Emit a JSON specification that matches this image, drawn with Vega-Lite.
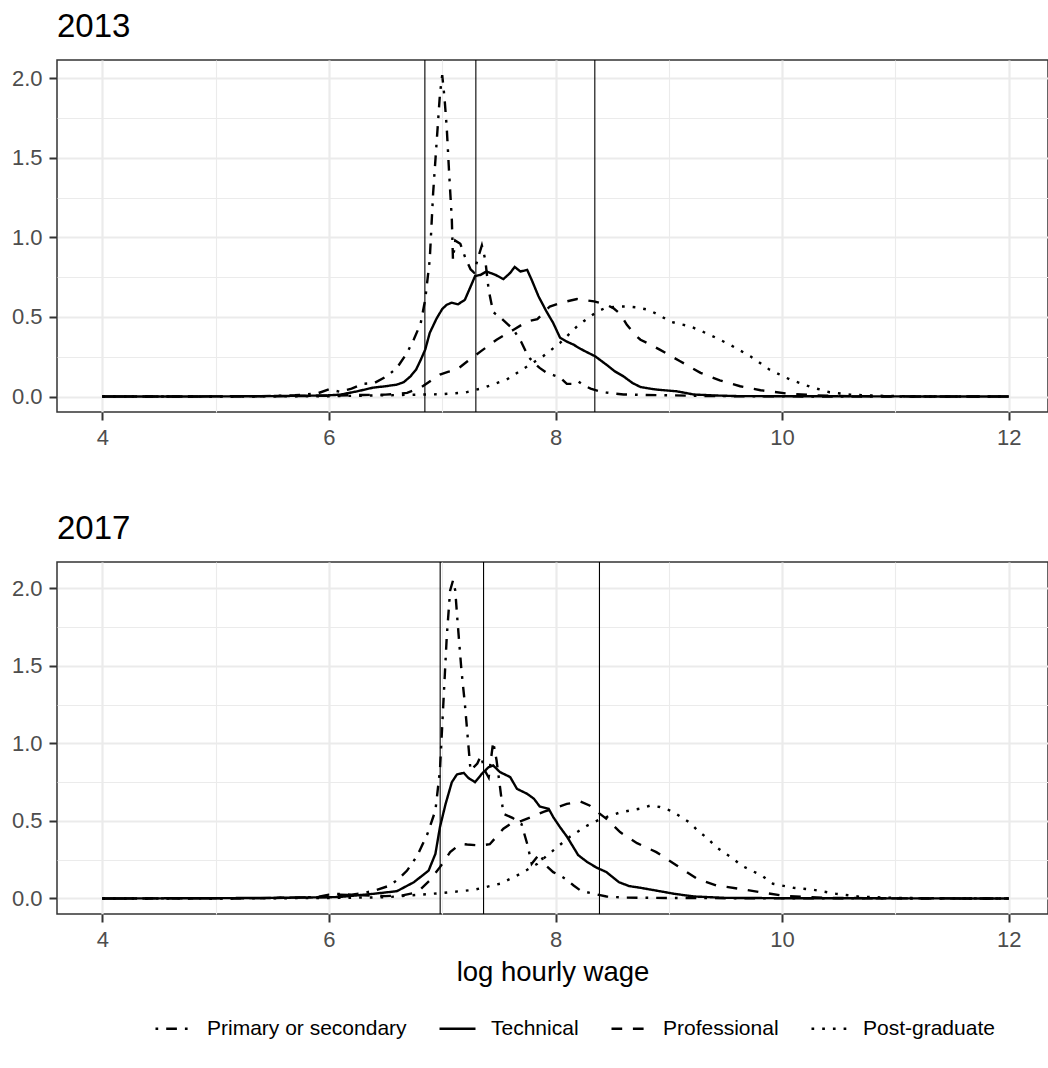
{
  "$schema": "https://vega.github.io/schema/vega-lite/v6.json",
  "background": "white",
  "padding": {"left": 10, "top": 10, "right": 0, "bottom": 0},
  "spacing": 63,
  "config": {
    "font": "Liberation Sans",
    "view": {"stroke": "#333333", "strokeWidth": 1.5},
    "axis": {
      "domain": false,
      "gridColor": "#EBEBEB",
      "tickColor": "#333333",
      "tickWidth": 2,
      "tickSize": 8,
      "labelColor": "#4D4D4D",
      "labelFontSize": 22,
      "labelFont": "Liberation Sans",
      "labelPadding": 7,
      "titleFontWeight": "normal",
      "titleColor": "black",
      "titleFont": "Liberation Sans"
    }
  },
  "datasets": {
    "dens": [
      {"year":2013,"edu":"Primary or secondary","x":4.0,"d":0},
      {"year":2013,"edu":"Primary or secondary","x":4.5,"d":0},
      {"year":2013,"edu":"Primary or secondary","x":5.0,"d":0.001},
      {"year":2013,"edu":"Primary or secondary","x":5.4,"d":0.003},
      {"year":2013,"edu":"Primary or secondary","x":5.7,"d":0.008},
      {"year":2013,"edu":"Primary or secondary","x":5.9,"d":0.02},
      {"year":2013,"edu":"Primary or secondary","x":6.0,"d":0.045},
      {"year":2013,"edu":"Primary or secondary","x":6.1,"d":0.03},
      {"year":2013,"edu":"Primary or secondary","x":6.2,"d":0.05},
      {"year":2013,"edu":"Primary or secondary","x":6.3,"d":0.08},
      {"year":2013,"edu":"Primary or secondary","x":6.4,"d":0.085},
      {"year":2013,"edu":"Primary or secondary","x":6.51,"d":0.127},
      {"year":2013,"edu":"Primary or secondary","x":6.6,"d":0.18},
      {"year":2013,"edu":"Primary or secondary","x":6.69,"d":0.275},
      {"year":2013,"edu":"Primary or secondary","x":6.75,"d":0.36},
      {"year":2013,"edu":"Primary or secondary","x":6.81,"d":0.46},
      {"year":2013,"edu":"Primary or secondary","x":6.85,"d":0.61},
      {"year":2013,"edu":"Primary or secondary","x":6.89,"d":0.86},
      {"year":2013,"edu":"Primary or secondary","x":6.92,"d":1.28},
      {"year":2013,"edu":"Primary or secondary","x":6.95,"d":1.59},
      {"year":2013,"edu":"Primary or secondary","x":6.98,"d":1.9},
      {"year":2013,"edu":"Primary or secondary","x":7.0,"d":2.02},
      {"year":2013,"edu":"Primary or secondary","x":7.02,"d":1.88},
      {"year":2013,"edu":"Primary or secondary","x":7.04,"d":1.69},
      {"year":2013,"edu":"Primary or secondary","x":7.06,"d":1.42},
      {"year":2013,"edu":"Primary or secondary","x":7.085,"d":1.11},
      {"year":2013,"edu":"Primary or secondary","x":7.095,"d":0.86},
      {"year":2013,"edu":"Primary or secondary","x":7.115,"d":0.98},
      {"year":2013,"edu":"Primary or secondary","x":7.16,"d":0.96},
      {"year":2013,"edu":"Primary or secondary","x":7.2,"d":0.88},
      {"year":2013,"edu":"Primary or secondary","x":7.25,"d":0.8},
      {"year":2013,"edu":"Primary or secondary","x":7.28,"d":0.78},
      {"year":2013,"edu":"Primary or secondary","x":7.32,"d":0.88},
      {"year":2013,"edu":"Primary or secondary","x":7.35,"d":0.95},
      {"year":2013,"edu":"Primary or secondary","x":7.38,"d":0.86},
      {"year":2013,"edu":"Primary or secondary","x":7.41,"d":0.67},
      {"year":2013,"edu":"Primary or secondary","x":7.45,"d":0.53},
      {"year":2013,"edu":"Primary or secondary","x":7.51,"d":0.5},
      {"year":2013,"edu":"Primary or secondary","x":7.57,"d":0.46},
      {"year":2013,"edu":"Primary or secondary","x":7.63,"d":0.42},
      {"year":2013,"edu":"Primary or secondary","x":7.7,"d":0.34},
      {"year":2013,"edu":"Primary or secondary","x":7.76,"d":0.25},
      {"year":2013,"edu":"Primary or secondary","x":7.8,"d":0.22},
      {"year":2013,"edu":"Primary or secondary","x":7.86,"d":0.18},
      {"year":2013,"edu":"Primary or secondary","x":7.92,"d":0.15},
      {"year":2013,"edu":"Primary or secondary","x":7.98,"d":0.135},
      {"year":2013,"edu":"Primary or secondary","x":8.04,"d":0.12},
      {"year":2013,"edu":"Primary or secondary","x":8.1,"d":0.08},
      {"year":2013,"edu":"Primary or secondary","x":8.16,"d":0.08},
      {"year":2013,"edu":"Primary or secondary","x":8.2,"d":0.095},
      {"year":2013,"edu":"Primary or secondary","x":8.25,"d":0.07},
      {"year":2013,"edu":"Primary or secondary","x":8.31,"d":0.05},
      {"year":2013,"edu":"Primary or secondary","x":8.39,"d":0.033},
      {"year":2013,"edu":"Primary or secondary","x":8.45,"d":0.025},
      {"year":2013,"edu":"Primary or secondary","x":8.6,"d":0.013},
      {"year":2013,"edu":"Primary or secondary","x":8.8,"d":0.01},
      {"year":2013,"edu":"Primary or secondary","x":9.0,"d":0.008},
      {"year":2013,"edu":"Primary or secondary","x":9.3,"d":0.004},
      {"year":2013,"edu":"Primary or secondary","x":9.6,"d":0.002},
      {"year":2013,"edu":"Primary or secondary","x":10.0,"d":0.001},
      {"year":2013,"edu":"Primary or secondary","x":11.0,"d":0},
      {"year":2013,"edu":"Primary or secondary","x":12.0,"d":0},

      {"year":2013,"edu":"Technical","x":4.0,"d":0},
      {"year":2013,"edu":"Technical","x":5.0,"d":0.001},
      {"year":2013,"edu":"Technical","x":5.5,"d":0.003},
      {"year":2013,"edu":"Technical","x":5.8,"d":0.005},
      {"year":2013,"edu":"Technical","x":6.0,"d":0.008},
      {"year":2013,"edu":"Technical","x":6.1,"d":0.012},
      {"year":2013,"edu":"Technical","x":6.25,"d":0.033},
      {"year":2013,"edu":"Technical","x":6.39,"d":0.056},
      {"year":2013,"edu":"Technical","x":6.5,"d":0.065},
      {"year":2013,"edu":"Technical","x":6.6,"d":0.075},
      {"year":2013,"edu":"Technical","x":6.66,"d":0.09},
      {"year":2013,"edu":"Technical","x":6.72,"d":0.127},
      {"year":2013,"edu":"Technical","x":6.77,"d":0.17},
      {"year":2013,"edu":"Technical","x":6.81,"d":0.23},
      {"year":2013,"edu":"Technical","x":6.85,"d":0.295},
      {"year":2013,"edu":"Technical","x":6.89,"d":0.4},
      {"year":2013,"edu":"Technical","x":6.95,"d":0.49},
      {"year":2013,"edu":"Technical","x":7.0,"d":0.55},
      {"year":2013,"edu":"Technical","x":7.04,"d":0.577},
      {"year":2013,"edu":"Technical","x":7.085,"d":0.59},
      {"year":2013,"edu":"Technical","x":7.14,"d":0.58},
      {"year":2013,"edu":"Technical","x":7.2,"d":0.608},
      {"year":2013,"edu":"Technical","x":7.25,"d":0.69},
      {"year":2013,"edu":"Technical","x":7.29,"d":0.757},
      {"year":2013,"edu":"Technical","x":7.34,"d":0.765},
      {"year":2013,"edu":"Technical","x":7.39,"d":0.786},
      {"year":2013,"edu":"Technical","x":7.47,"d":0.765},
      {"year":2013,"edu":"Technical","x":7.54,"d":0.738},
      {"year":2013,"edu":"Technical","x":7.6,"d":0.777},
      {"year":2013,"edu":"Technical","x":7.64,"d":0.815},
      {"year":2013,"edu":"Technical","x":7.69,"d":0.786},
      {"year":2013,"edu":"Technical","x":7.75,"d":0.796},
      {"year":2013,"edu":"Technical","x":7.79,"d":0.733},
      {"year":2013,"edu":"Technical","x":7.85,"d":0.63},
      {"year":2013,"edu":"Technical","x":7.92,"d":0.535},
      {"year":2013,"edu":"Technical","x":7.98,"d":0.462},
      {"year":2013,"edu":"Technical","x":8.04,"d":0.37},
      {"year":2013,"edu":"Technical","x":8.1,"d":0.345},
      {"year":2013,"edu":"Technical","x":8.16,"d":0.326},
      {"year":2013,"edu":"Technical","x":8.22,"d":0.3},
      {"year":2013,"edu":"Technical","x":8.28,"d":0.278},
      {"year":2013,"edu":"Technical","x":8.35,"d":0.253},
      {"year":2013,"edu":"Technical","x":8.45,"d":0.2},
      {"year":2013,"edu":"Technical","x":8.52,"d":0.16},
      {"year":2013,"edu":"Technical","x":8.6,"d":0.127},
      {"year":2013,"edu":"Technical","x":8.68,"d":0.085},
      {"year":2013,"edu":"Technical","x":8.75,"d":0.06},
      {"year":2013,"edu":"Technical","x":8.85,"d":0.048},
      {"year":2013,"edu":"Technical","x":8.92,"d":0.042},
      {"year":2013,"edu":"Technical","x":9.07,"d":0.033},
      {"year":2013,"edu":"Technical","x":9.22,"d":0.013},
      {"year":2013,"edu":"Technical","x":9.4,"d":0.007},
      {"year":2013,"edu":"Technical","x":9.6,"d":0.003},
      {"year":2013,"edu":"Technical","x":10.0,"d":0.002},
      {"year":2013,"edu":"Technical","x":11.0,"d":0.001},
      {"year":2013,"edu":"Technical","x":12.0,"d":0},

      {"year":2013,"edu":"Professional","x":4.0,"d":0},
      {"year":2013,"edu":"Professional","x":5.0,"d":0.001},
      {"year":2013,"edu":"Professional","x":5.5,"d":0.002},
      {"year":2013,"edu":"Professional","x":6.0,"d":0.005},
      {"year":2013,"edu":"Professional","x":6.3,"d":0.01},
      {"year":2013,"edu":"Professional","x":6.5,"d":0.012},
      {"year":2013,"edu":"Professional","x":6.69,"d":0.023},
      {"year":2013,"edu":"Professional","x":6.81,"d":0.056},
      {"year":2013,"edu":"Professional","x":6.9,"d":0.1},
      {"year":2013,"edu":"Professional","x":6.98,"d":0.138},
      {"year":2013,"edu":"Professional","x":7.05,"d":0.155},
      {"year":2013,"edu":"Professional","x":7.13,"d":0.169},
      {"year":2013,"edu":"Professional","x":7.22,"d":0.22},
      {"year":2013,"edu":"Professional","x":7.34,"d":0.284},
      {"year":2013,"edu":"Professional","x":7.48,"d":0.357},
      {"year":2013,"edu":"Professional","x":7.63,"d":0.42},
      {"year":2013,"edu":"Professional","x":7.75,"d":0.472},
      {"year":2013,"edu":"Professional","x":7.84,"d":0.487},
      {"year":2013,"edu":"Professional","x":7.95,"d":0.566},
      {"year":2013,"edu":"Professional","x":8.04,"d":0.587},
      {"year":2013,"edu":"Professional","x":8.1,"d":0.598},
      {"year":2013,"edu":"Professional","x":8.19,"d":0.613},
      {"year":2013,"edu":"Professional","x":8.27,"d":0.605},
      {"year":2013,"edu":"Professional","x":8.34,"d":0.598},
      {"year":2013,"edu":"Professional","x":8.45,"d":0.577},
      {"year":2013,"edu":"Professional","x":8.51,"d":0.556},
      {"year":2013,"edu":"Professional","x":8.57,"d":0.52},
      {"year":2013,"edu":"Professional","x":8.63,"d":0.451},
      {"year":2013,"edu":"Professional","x":8.7,"d":0.39},
      {"year":2013,"edu":"Professional","x":8.75,"d":0.357},
      {"year":2013,"edu":"Professional","x":8.84,"d":0.326},
      {"year":2013,"edu":"Professional","x":8.92,"d":0.295},
      {"year":2013,"edu":"Professional","x":9.1,"d":0.222},
      {"year":2013,"edu":"Professional","x":9.28,"d":0.149},
      {"year":2013,"edu":"Professional","x":9.45,"d":0.102},
      {"year":2013,"edu":"Professional","x":9.63,"d":0.065},
      {"year":2013,"edu":"Professional","x":9.81,"d":0.04},
      {"year":2013,"edu":"Professional","x":10.04,"d":0.019},
      {"year":2013,"edu":"Professional","x":10.3,"d":0.008},
      {"year":2013,"edu":"Professional","x":10.6,"d":0.003},
      {"year":2013,"edu":"Professional","x":11.0,"d":0.001},
      {"year":2013,"edu":"Professional","x":12.0,"d":0},

      {"year":2013,"edu":"Post-graduate","x":4.0,"d":0},
      {"year":2013,"edu":"Post-graduate","x":5.0,"d":0},
      {"year":2013,"edu":"Post-graduate","x":6.0,"d":0.002},
      {"year":2013,"edu":"Post-graduate","x":6.5,"d":0.008},
      {"year":2013,"edu":"Post-graduate","x":6.85,"d":0.013},
      {"year":2013,"edu":"Post-graduate","x":7.0,"d":0.015},
      {"year":2013,"edu":"Post-graduate","x":7.2,"d":0.025},
      {"year":2013,"edu":"Post-graduate","x":7.36,"d":0.054},
      {"year":2013,"edu":"Post-graduate","x":7.57,"d":0.107},
      {"year":2013,"edu":"Post-graduate","x":7.75,"d":0.19},
      {"year":2013,"edu":"Post-graduate","x":7.89,"d":0.253},
      {"year":2013,"edu":"Post-graduate","x":8.04,"d":0.337},
      {"year":2013,"edu":"Post-graduate","x":8.19,"d":0.441},
      {"year":2013,"edu":"Post-graduate","x":8.28,"d":0.49},
      {"year":2013,"edu":"Post-graduate","x":8.37,"d":0.535},
      {"year":2013,"edu":"Post-graduate","x":8.45,"d":0.56},
      {"year":2013,"edu":"Post-graduate","x":8.54,"d":0.565},
      {"year":2013,"edu":"Post-graduate","x":8.63,"d":0.566},
      {"year":2013,"edu":"Post-graduate","x":8.72,"d":0.56},
      {"year":2013,"edu":"Post-graduate","x":8.82,"d":0.545},
      {"year":2013,"edu":"Post-graduate","x":8.92,"d":0.51},
      {"year":2013,"edu":"Post-graduate","x":9.01,"d":0.472},
      {"year":2013,"edu":"Post-graduate","x":9.1,"d":0.455},
      {"year":2013,"edu":"Post-graduate","x":9.19,"d":0.441},
      {"year":2013,"edu":"Post-graduate","x":9.36,"d":0.389},
      {"year":2013,"edu":"Post-graduate","x":9.54,"d":0.326},
      {"year":2013,"edu":"Post-graduate","x":9.72,"d":0.253},
      {"year":2013,"edu":"Post-graduate","x":9.89,"d":0.169},
      {"year":2013,"edu":"Post-graduate","x":10.07,"d":0.107},
      {"year":2013,"edu":"Post-graduate","x":10.25,"d":0.061},
      {"year":2013,"edu":"Post-graduate","x":10.42,"d":0.027},
      {"year":2013,"edu":"Post-graduate","x":10.6,"d":0.012},
      {"year":2013,"edu":"Post-graduate","x":10.9,"d":0.004},
      {"year":2013,"edu":"Post-graduate","x":11.3,"d":0.001},
      {"year":2013,"edu":"Post-graduate","x":12.0,"d":0},

      {"year":2017,"edu":"Primary or secondary","x":4.0,"d":0},
      {"year":2017,"edu":"Primary or secondary","x":5.0,"d":0.001},
      {"year":2017,"edu":"Primary or secondary","x":5.5,"d":0.003},
      {"year":2017,"edu":"Primary or secondary","x":5.9,"d":0.01},
      {"year":2017,"edu":"Primary or secondary","x":6.0,"d":0.025},
      {"year":2017,"edu":"Primary or secondary","x":6.1,"d":0.03},
      {"year":2017,"edu":"Primary or secondary","x":6.2,"d":0.025},
      {"year":2017,"edu":"Primary or secondary","x":6.3,"d":0.035},
      {"year":2017,"edu":"Primary or secondary","x":6.4,"d":0.05},
      {"year":2017,"edu":"Primary or secondary","x":6.54,"d":0.084},
      {"year":2017,"edu":"Primary or secondary","x":6.62,"d":0.13},
      {"year":2017,"edu":"Primary or secondary","x":6.69,"d":0.18},
      {"year":2017,"edu":"Primary or secondary","x":6.78,"d":0.277},
      {"year":2017,"edu":"Primary or secondary","x":6.87,"d":0.417},
      {"year":2017,"edu":"Primary or secondary","x":6.94,"d":0.568},
      {"year":2017,"edu":"Primary or secondary","x":6.98,"d":0.826},
      {"year":2017,"edu":"Primary or secondary","x":7.01,"d":1.256},
      {"year":2017,"edu":"Primary or secondary","x":7.04,"d":1.686},
      {"year":2017,"edu":"Primary or secondary","x":7.07,"d":1.987},
      {"year":2017,"edu":"Primary or secondary","x":7.095,"d":2.05},
      {"year":2017,"edu":"Primary or secondary","x":7.115,"d":1.987},
      {"year":2017,"edu":"Primary or secondary","x":7.135,"d":1.79},
      {"year":2017,"edu":"Primary or secondary","x":7.17,"d":1.47},
      {"year":2017,"edu":"Primary or secondary","x":7.2,"d":1.256},
      {"year":2017,"edu":"Primary or secondary","x":7.23,"d":0.998},
      {"year":2017,"edu":"Primary or secondary","x":7.25,"d":0.826},
      {"year":2017,"edu":"Primary or secondary","x":7.31,"d":0.87},
      {"year":2017,"edu":"Primary or secondary","x":7.34,"d":0.92},
      {"year":2017,"edu":"Primary or secondary","x":7.38,"d":0.82},
      {"year":2017,"edu":"Primary or secondary","x":7.41,"d":0.78},
      {"year":2017,"edu":"Primary or secondary","x":7.45,"d":1.01},
      {"year":2017,"edu":"Primary or secondary","x":7.48,"d":0.89},
      {"year":2017,"edu":"Primary or secondary","x":7.51,"d":0.72},
      {"year":2017,"edu":"Primary or secondary","x":7.54,"d":0.546},
      {"year":2017,"edu":"Primary or secondary","x":7.62,"d":0.52},
      {"year":2017,"edu":"Primary or secondary","x":7.7,"d":0.48},
      {"year":2017,"edu":"Primary or secondary","x":7.75,"d":0.353},
      {"year":2017,"edu":"Primary or secondary","x":7.79,"d":0.224},
      {"year":2017,"edu":"Primary or secondary","x":7.86,"d":0.288},
      {"year":2017,"edu":"Primary or secondary","x":7.92,"d":0.21},
      {"year":2017,"edu":"Primary or secondary","x":7.98,"d":0.17},
      {"year":2017,"edu":"Primary or secondary","x":8.04,"d":0.148},
      {"year":2017,"edu":"Primary or secondary","x":8.1,"d":0.12},
      {"year":2017,"edu":"Primary or secondary","x":8.16,"d":0.084},
      {"year":2017,"edu":"Primary or secondary","x":8.22,"d":0.052},
      {"year":2017,"edu":"Primary or secondary","x":8.28,"d":0.04},
      {"year":2017,"edu":"Primary or secondary","x":8.45,"d":0.013},
      {"year":2017,"edu":"Primary or secondary","x":8.6,"d":0.006},
      {"year":2017,"edu":"Primary or secondary","x":9.0,"d":0.003},
      {"year":2017,"edu":"Primary or secondary","x":10.0,"d":0.001},
      {"year":2017,"edu":"Primary or secondary","x":12.0,"d":0},

      {"year":2017,"edu":"Technical","x":4.0,"d":0},
      {"year":2017,"edu":"Technical","x":5.0,"d":0.002},
      {"year":2017,"edu":"Technical","x":5.5,"d":0.004},
      {"year":2017,"edu":"Technical","x":6.0,"d":0.008},
      {"year":2017,"edu":"Technical","x":6.1,"d":0.01},
      {"year":2017,"edu":"Technical","x":6.39,"d":0.03},
      {"year":2017,"edu":"Technical","x":6.6,"d":0.047},
      {"year":2017,"edu":"Technical","x":6.75,"d":0.105},
      {"year":2017,"edu":"Technical","x":6.88,"d":0.18},
      {"year":2017,"edu":"Technical","x":6.94,"d":0.288},
      {"year":2017,"edu":"Technical","x":6.98,"d":0.46},
      {"year":2017,"edu":"Technical","x":7.03,"d":0.61},
      {"year":2017,"edu":"Technical","x":7.085,"d":0.75},
      {"year":2017,"edu":"Technical","x":7.13,"d":0.8},
      {"year":2017,"edu":"Technical","x":7.19,"d":0.81},
      {"year":2017,"edu":"Technical","x":7.23,"d":0.778},
      {"year":2017,"edu":"Technical","x":7.29,"d":0.75},
      {"year":2017,"edu":"Technical","x":7.35,"d":0.804},
      {"year":2017,"edu":"Technical","x":7.41,"d":0.847},
      {"year":2017,"edu":"Technical","x":7.45,"d":0.858},
      {"year":2017,"edu":"Technical","x":7.51,"d":0.815},
      {"year":2017,"edu":"Technical","x":7.6,"d":0.783},
      {"year":2017,"edu":"Technical","x":7.66,"d":0.707},
      {"year":2017,"edu":"Technical","x":7.75,"d":0.675},
      {"year":2017,"edu":"Technical","x":7.81,"d":0.643},
      {"year":2017,"edu":"Technical","x":7.86,"d":0.594},
      {"year":2017,"edu":"Technical","x":7.94,"d":0.578},
      {"year":2017,"edu":"Technical","x":7.98,"d":0.525},
      {"year":2017,"edu":"Technical","x":8.04,"d":0.46},
      {"year":2017,"edu":"Technical","x":8.1,"d":0.4},
      {"year":2017,"edu":"Technical","x":8.2,"d":0.28},
      {"year":2017,"edu":"Technical","x":8.28,"d":0.235},
      {"year":2017,"edu":"Technical","x":8.36,"d":0.2},
      {"year":2017,"edu":"Technical","x":8.45,"d":0.17},
      {"year":2017,"edu":"Technical","x":8.56,"d":0.105},
      {"year":2017,"edu":"Technical","x":8.65,"d":0.08},
      {"year":2017,"edu":"Technical","x":8.75,"d":0.069},
      {"year":2017,"edu":"Technical","x":8.92,"d":0.047},
      {"year":2017,"edu":"Technical","x":9.05,"d":0.03},
      {"year":2017,"edu":"Technical","x":9.22,"d":0.013},
      {"year":2017,"edu":"Technical","x":9.5,"d":0.004},
      {"year":2017,"edu":"Technical","x":10.0,"d":0.002},
      {"year":2017,"edu":"Technical","x":12.0,"d":0},

      {"year":2017,"edu":"Professional","x":4.0,"d":0},
      {"year":2017,"edu":"Professional","x":5.0,"d":0.001},
      {"year":2017,"edu":"Professional","x":5.5,"d":0.003},
      {"year":2017,"edu":"Professional","x":6.0,"d":0.01},
      {"year":2017,"edu":"Professional","x":6.1,"d":0.025},
      {"year":2017,"edu":"Professional","x":6.3,"d":0.02},
      {"year":2017,"edu":"Professional","x":6.5,"d":0.015},
      {"year":2017,"edu":"Professional","x":6.65,"d":0.02},
      {"year":2017,"edu":"Professional","x":6.78,"d":0.04},
      {"year":2017,"edu":"Professional","x":6.89,"d":0.116},
      {"year":2017,"edu":"Professional","x":6.98,"d":0.202},
      {"year":2017,"edu":"Professional","x":7.07,"d":0.299},
      {"year":2017,"edu":"Professional","x":7.16,"d":0.353},
      {"year":2017,"edu":"Professional","x":7.22,"d":0.348},
      {"year":2017,"edu":"Professional","x":7.34,"d":0.342},
      {"year":2017,"edu":"Professional","x":7.42,"d":0.35},
      {"year":2017,"edu":"Professional","x":7.48,"d":0.4},
      {"year":2017,"edu":"Professional","x":7.54,"d":0.45},
      {"year":2017,"edu":"Professional","x":7.6,"d":0.48},
      {"year":2017,"edu":"Professional","x":7.7,"d":0.5},
      {"year":2017,"edu":"Professional","x":7.8,"d":0.53},
      {"year":2017,"edu":"Professional","x":7.9,"d":0.56},
      {"year":2017,"edu":"Professional","x":7.98,"d":0.58},
      {"year":2017,"edu":"Professional","x":8.1,"d":0.61},
      {"year":2017,"edu":"Professional","x":8.22,"d":0.625},
      {"year":2017,"edu":"Professional","x":8.3,"d":0.6},
      {"year":2017,"edu":"Professional","x":8.34,"d":0.575},
      {"year":2017,"edu":"Professional","x":8.45,"d":0.514},
      {"year":2017,"edu":"Professional","x":8.57,"d":0.428},
      {"year":2017,"edu":"Professional","x":8.72,"d":0.357},
      {"year":2017,"edu":"Professional","x":8.89,"d":0.299},
      {"year":2017,"edu":"Professional","x":9.07,"d":0.213},
      {"year":2017,"edu":"Professional","x":9.25,"d":0.127},
      {"year":2017,"edu":"Professional","x":9.42,"d":0.084},
      {"year":2017,"edu":"Professional","x":9.63,"d":0.062},
      {"year":2017,"edu":"Professional","x":9.81,"d":0.04},
      {"year":2017,"edu":"Professional","x":10.04,"d":0.015},
      {"year":2017,"edu":"Professional","x":10.4,"d":0.004},
      {"year":2017,"edu":"Professional","x":11.0,"d":0.001},
      {"year":2017,"edu":"Professional","x":12.0,"d":0},

      {"year":2017,"edu":"Post-graduate","x":4.0,"d":0},
      {"year":2017,"edu":"Post-graduate","x":5.0,"d":0},
      {"year":2017,"edu":"Post-graduate","x":6.0,"d":0.003},
      {"year":2017,"edu":"Post-graduate","x":6.5,"d":0.008},
      {"year":2017,"edu":"Post-graduate","x":6.98,"d":0.034},
      {"year":2017,"edu":"Post-graduate","x":7.28,"d":0.056},
      {"year":2017,"edu":"Post-graduate","x":7.51,"d":0.095},
      {"year":2017,"edu":"Post-graduate","x":7.69,"d":0.159},
      {"year":2017,"edu":"Post-graduate","x":7.84,"d":0.224},
      {"year":2017,"edu":"Post-graduate","x":7.98,"d":0.31},
      {"year":2017,"edu":"Post-graduate","x":8.13,"d":0.4},
      {"year":2017,"edu":"Post-graduate","x":8.28,"d":0.47},
      {"year":2017,"edu":"Post-graduate","x":8.39,"d":0.51},
      {"year":2017,"edu":"Post-graduate","x":8.57,"d":0.555},
      {"year":2017,"edu":"Post-graduate","x":8.75,"d":0.58},
      {"year":2017,"edu":"Post-graduate","x":8.84,"d":0.6},
      {"year":2017,"edu":"Post-graduate","x":8.92,"d":0.59},
      {"year":2017,"edu":"Post-graduate","x":9.03,"d":0.563},
      {"year":2017,"edu":"Post-graduate","x":9.11,"d":0.525},
      {"year":2017,"edu":"Post-graduate","x":9.19,"d":0.486},
      {"year":2017,"edu":"Post-graduate","x":9.26,"d":0.434},
      {"year":2017,"edu":"Post-graduate","x":9.34,"d":0.39},
      {"year":2017,"edu":"Post-graduate","x":9.41,"d":0.337},
      {"year":2017,"edu":"Post-graduate","x":9.48,"d":0.299},
      {"year":2017,"edu":"Post-graduate","x":9.57,"d":0.256},
      {"year":2017,"edu":"Post-graduate","x":9.64,"d":0.213},
      {"year":2017,"edu":"Post-graduate","x":9.73,"d":0.18},
      {"year":2017,"edu":"Post-graduate","x":9.82,"d":0.148},
      {"year":2017,"edu":"Post-graduate","x":9.92,"d":0.095},
      {"year":2017,"edu":"Post-graduate","x":10.1,"d":0.069},
      {"year":2017,"edu":"Post-graduate","x":10.28,"d":0.056},
      {"year":2017,"edu":"Post-graduate","x":10.48,"d":0.03},
      {"year":2017,"edu":"Post-graduate","x":10.68,"d":0.012},
      {"year":2017,"edu":"Post-graduate","x":11.0,"d":0.004},
      {"year":2017,"edu":"Post-graduate","x":11.5,"d":0.001},
      {"year":2017,"edu":"Post-graduate","x":12.0,"d":0}
    ],
    "cuts": [
      {"year":2013,"x":6.847},
      {"year":2013,"x":7.297},
      {"year":2013,"x":8.347},
      {"year":2017,"x":6.982},
      {"year":2017,"x":7.365},
      {"year":2017,"x":8.388}
    ]
  },
  "vconcat": [
    {
      "width": 991,
      "height": 352,
      "title": {"text": "2013", "anchor": "start", "frame": "group", "fontSize": 33, "fontWeight": "normal", "color": "black", "font": "Liberation Sans", "baseline": "alphabetic", "offset": -11},
      "layer": [
        {
          "data": {"name": "dens"},
          "transform": [{"filter": "datum.year == 2013"}],
          "mark": {"type": "line", "color": "black", "strokeWidth": 2.4, "clip": true},
          "encoding": {
            "x": {"field": "x", "type": "quantitative",
              "scale": {"domain": [3.6, 12.347], "nice": false, "zero": false},
              "axis": {"title": null, "values": [4,5,6,7,8,9,10,11,12],
                "labelExpr": "datum.value % 2 == 0 ? format(datum.value, 'd') : ''",
                "tickOpacity": {"condition": {"test": "datum.value % 2 == 1", "value": 0}, "value": 1},
                "gridWidth": {"condition": {"test": "datum.value % 2 == 1", "value": 1.1}, "value": 2.2}}},
            "y": {"field": "d", "type": "quantitative",
              "scale": {"domain": [-0.097, 2.115], "nice": false, "zero": false},
              "axis": {"title": null, "values": [0,0.25,0.5,0.75,1,1.25,1.5,1.75,2],
                "labelExpr": "(datum.value*2) % 1 == 0 ? format(datum.value, '.1f') : ''",
                "tickOpacity": {"condition": {"test": "(datum.value*2) % 1 != 0", "value": 0}, "value": 1},
                "gridWidth": {"condition": {"test": "(datum.value*2) % 1 != 0", "value": 1.1}, "value": 2.2}}},
            "strokeDash": {"field": "edu", "type": "nominal",
              "scale": {"domain": ["Primary or secondary", "Technical", "Professional", "Post-graduate"],
                "range": [[2.7, 8, 10.7, 8], [1, 0], [10.7, 10.7], [2.7, 8]]},
              "legend": {"title": null, "orient": "none", "direction": "horizontal", "legendX": 97, "legendY": 949,
                "symbolType": "stroke", "symbolSize": 1296, "symbolStrokeWidth": 2.4, "symbolStrokeColor": "black",
                "labelFontSize": 21, "labelColor": "black", "labelFont": "Liberation Sans", "labelLimit": 0, "labelOffset": 14, "columnPadding": 27}}
          }
        },
        {
          "data": {"name": "cuts"},
          "transform": [{"filter": "datum.year == 2013"}],
          "mark": {"type": "rule", "color": "black", "strokeWidth": 1.1},
          "encoding": {"x": {"field": "x", "type": "quantitative"}}
        }
      ]
    },
    {
      "width": 991,
      "height": 352,
      "title": {"text": "2017", "anchor": "start", "frame": "group", "fontSize": 33, "fontWeight": "normal", "color": "black", "font": "Liberation Sans", "baseline": "alphabetic", "offset": -11},
      "layer": [
        {
          "data": {"name": "dens"},
          "transform": [{"filter": "datum.year == 2017"}],
          "mark": {"type": "line", "color": "black", "strokeWidth": 2.4, "clip": true},
          "encoding": {
            "x": {"field": "x", "type": "quantitative",
              "scale": {"domain": [3.6, 12.347], "nice": false, "zero": false},
              "axis": {"title": "log hourly wage", "titleFontSize": 27.5, "titlePadding": 8, "values": [4,5,6,7,8,9,10,11,12],
                "labelExpr": "datum.value % 2 == 0 ? format(datum.value, 'd') : ''",
                "tickOpacity": {"condition": {"test": "datum.value % 2 == 1", "value": 0}, "value": 1},
                "gridWidth": {"condition": {"test": "datum.value % 2 == 1", "value": 1.1}, "value": 2.2}}},
            "y": {"field": "d", "type": "quantitative",
              "scale": {"domain": [-0.1, 2.17], "nice": false, "zero": false},
              "axis": {"title": null, "values": [0,0.25,0.5,0.75,1,1.25,1.5,1.75,2],
                "labelExpr": "(datum.value*2) % 1 == 0 ? format(datum.value, '.1f') : ''",
                "tickOpacity": {"condition": {"test": "(datum.value*2) % 1 != 0", "value": 0}, "value": 1},
                "gridWidth": {"condition": {"test": "(datum.value*2) % 1 != 0", "value": 1.1}, "value": 2.2}}},
            "strokeDash": {"field": "edu", "type": "nominal",
              "scale": {"domain": ["Primary or secondary", "Technical", "Professional", "Post-graduate"],
                "range": [[2.7, 8, 10.7, 8], [1, 0], [10.7, 10.7], [2.7, 8]]},
              "legend": null}
          }
        },
        {
          "data": {"name": "cuts"},
          "transform": [{"filter": "datum.year == 2017"}],
          "mark": {"type": "rule", "color": "black", "strokeWidth": 1.1},
          "encoding": {"x": {"field": "x", "type": "quantitative"}}
        }
      ]
    }
  ]
}
